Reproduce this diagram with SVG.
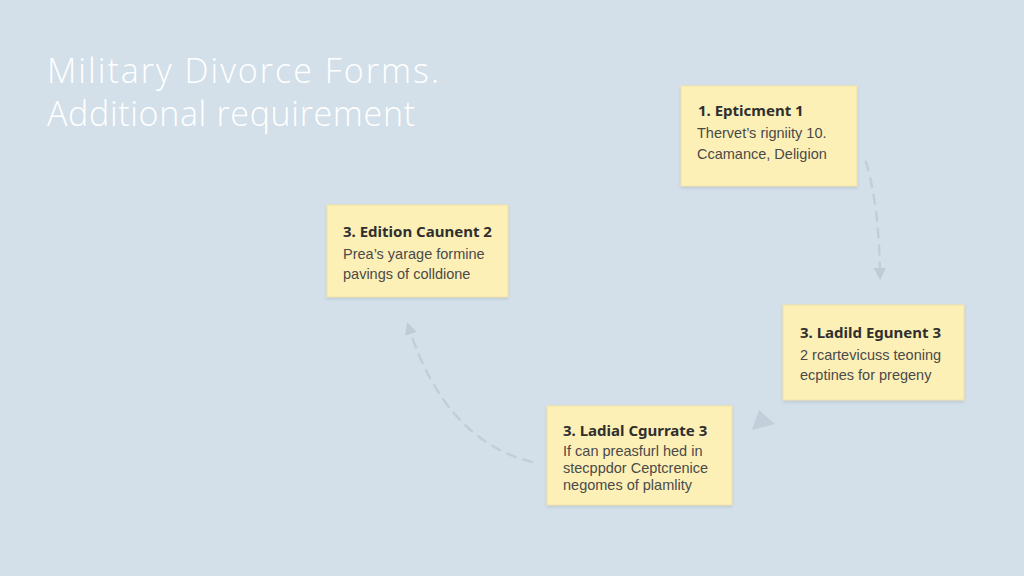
<svg xmlns="http://www.w3.org/2000/svg" width="1024" height="576" viewBox="0 0 1024 576">
<defs>
<filter id="sh" x="-10%" y="-10%" width="120%" height="130%">
<feDropShadow dx="0" dy="1.5" stdDeviation="1.5" flood-color="#8a9aa8" flood-opacity="0.35"/>
</filter>
<marker id="ah" viewBox="0 0 10 10" refX="5" refY="5" markerWidth="5" markerHeight="5" orient="auto" markerUnits="strokeWidth">
<path d="M0,0 L10,5 L0,10 z" fill="#bfcbd6"/>
</marker>
</defs>
<style>
.box{fill:#fdf0b6;stroke:#f3e4a4;stroke-width:1;filter:url(#sh)}
.t{font-family:"Noto Sans","Liberation Sans",sans-serif;font-weight:bold;font-size:15px;fill:#2f2f2f}
.b{font-family:"Liberation Sans","Noto Sans",sans-serif;font-size:14.5px;fill:#4a4a4a}
.title{font-family:"Open Sans","Lato",sans-serif;font-weight:300;font-size:34px;fill:#ffffff}
.c{fill:none;stroke:#c2ced9;stroke-width:2.5;stroke-dasharray:9 8;stroke-linecap:round}
</style>
<rect width="1024" height="576" fill="#d3e0ea"/>
<g id="title">
<text class="title" x="47" y="83" textLength="392">Military Divorce Forms.</text>
<text class="title" x="47" y="126" textLength="368">Additional requirement</text>
</g>
<g id="connectors">
<path class="c" d="M866,162 Q879,205 880,274" marker-end="url(#ah)"/>
<path d="M752,430 L759,410 L775,424 z" fill="#c2ced9"/>
<path class="c" d="M532,462 Q445,440 409,328" marker-end="url(#ah)"/>
</g>
<g id="node1">
<rect class="box" x="681" y="86" width="176" height="100"/>
<text class="t" x="698" y="116">1. Epticment 1</text>
<text class="b" x="697" y="138">Thervet’s rigniity 10.</text>
<text class="b" x="697" y="159">Ccamance, Deligion</text>
</g>
<g id="node2">
<rect class="box" x="327" y="205" width="181" height="92"/>
<text class="t" x="343" y="237">3. Edition Caunent 2</text>
<text class="b" x="343" y="259">Prea’s yarage formine</text>
<text class="b" x="343" y="279">pavings of colldione</text>
</g>
<g id="node3">
<rect class="box" x="783" y="305" width="181" height="95"/>
<text class="t" x="800" y="338">3. Ladild Egunent 3</text>
<text class="b" x="800" y="360">2 rcartevicuss teoning</text>
<text class="b" x="800" y="380">ecptines for pregeny</text>
</g>
<g id="node4">
<rect class="box" x="547" y="406" width="185" height="99"/>
<text class="t" x="563" y="436">3. Ladial Cgurrate 3</text>
<text class="b" x="563" y="456">If can preasfurl hed in</text>
<text class="b" x="563" y="473">stecppdor Ceptcrenice</text>
<text class="b" x="563" y="490">negomes of plamlity</text>
</g>
</svg>
